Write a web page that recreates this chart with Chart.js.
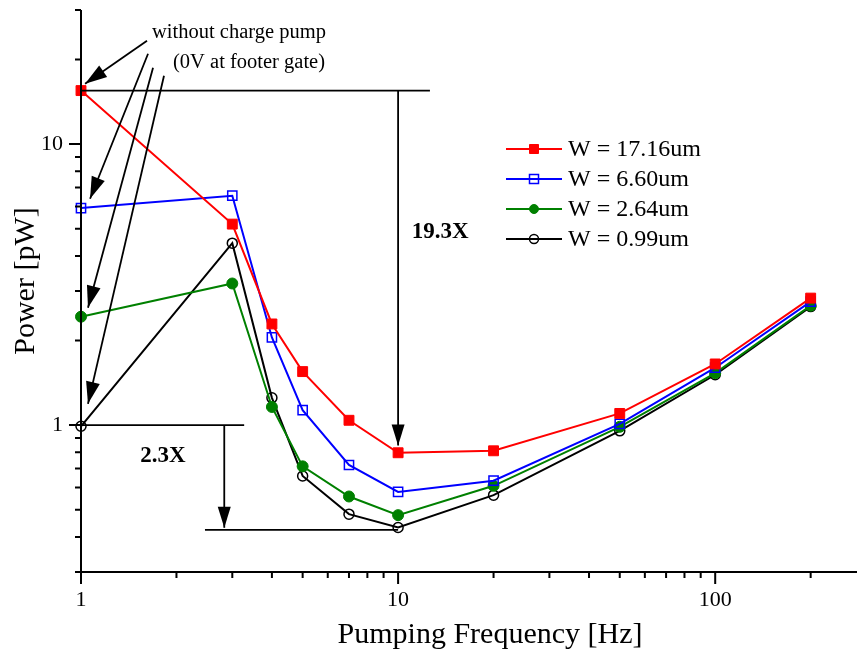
<!DOCTYPE html>
<html><head><meta charset="utf-8">
<script src="https://cdn.jsdelivr.net/npm/chart.js@4"></script>
<style>html,body{margin:0;padding:0;background:#fff;}#wrap{width:859px;height:655px;}</style>
</head><body><div id="wrap"><canvas id="c" width="859" height="655"></canvas></div>
<script>
// ---- data ----
const frequencies = [1, 3, 4, 5, 7, 10, 20, 50, 100, 200];
const seriesNames = ['W = 17.16um', 'W = 6.60um', 'W = 2.64um', 'W = 0.99um'];
const power_17_16 = [15.5, 5.19, 2.29, 1.55, 1.04, 0.797, 0.81, 1.10, 1.65, 2.83];
const power_6_60  = [5.92, 6.55, 2.05, 1.13, 0.721, 0.578, 0.634, 1.01, 1.60, 2.75];
const power_2_64  = [2.43, 3.19, 1.16, 0.713, 0.557, 0.478, 0.608, 0.986, 1.53, 2.66];
const power_0_99  = [0.99, 4.44, 1.25, 0.659, 0.482, 0.432, 0.563, 0.954, 1.51, 2.64];
const xTickLabels = ['1', '10', '100'];
const yTickLabels = ['1', '10'];
const xRange = [1, 280];
const yRange = [0.3, 30];
const ratioTop = '19.3X';
const ratioBottom = '2.3X';
const noteLine1 = 'without charge pump';
const noteLine2 = '(0V at footer gate)';

const FONT = "'Liberation Serif','Times New Roman',serif";
const seriesValues = [power_17_16, power_6_60, power_2_64, power_0_99];
const styles = [
  {c:'#ff0000', ps:'rect', r:7, fill:'#ff0000', bw:1},
  {c:'#0000ff', ps:'rect', r:6.5, fill:'rgba(0,0,0,0)', bw:1.5},
  {c:'#008000', ps:'circle', r:5.5, fill:'#008000', bw:1},
  {c:'#000000', ps:'circle', r:5, fill:'rgba(0,0,0,0)', bw:1.5}
];
const datasets = seriesValues.map((vals, i) => ({
  label: seriesNames[i],
  data: frequencies.map((f, k) => ({x: f, y: vals[k]})),
  borderColor: styles[i].c,
  backgroundColor: styles[i].fill,
  pointBackgroundColor: styles[i].fill,
  pointBorderColor: styles[i].c,
  pointStyle: styles[i].ps,
  pointRadius: styles[i].r,
  pointBorderWidth: styles[i].bw,
  borderWidth: 2,
  tension: 0,
  clip: false
}));

function isNice(v) {
  const e = Math.floor(Math.log10(v) + 1e-9);
  const m = v / Math.pow(10, e);
  return Math.abs(m - Math.round(m)) < 1e-6 ? Math.round(m) : 0;
}

const overlay = {
  id: 'overlay',
  afterDraw(chart) {
    const ctx = chart.ctx;
    const xs = chart.scales.x, ys = chart.scales.y;
    const ca = chart.chartArea;
    const X = v => xs.getPixelForValue(v), Y = v => ys.getPixelForValue(v);
    ctx.save();
    ctx.strokeStyle = '#000'; ctx.fillStyle = '#000';
    ctx.lineWidth = 2;
    ctx.beginPath();
    ctx.moveTo(ca.left, ca.top); ctx.lineTo(ca.left, ca.bottom);
    ctx.moveTo(ca.left - 1, ca.bottom); ctx.lineTo(ca.right, ca.bottom);
    ctx.stroke();
    ctx.beginPath();
    xs.ticks.forEach(t => {
      const m = isNice(t.value); if (!m) return;
      const px = X(t.value); const len = m === 1 ? 12 : 6;
      ctx.moveTo(px, ca.bottom); ctx.lineTo(px, ca.bottom + len);
    });
    ys.ticks.forEach(t => {
      const m = isNice(t.value); if (!m) return;
      const py = Y(t.value); const len = m === 1 ? 12 : 6;
      ctx.moveTo(ca.left, py); ctx.lineTo(ca.left - len, py);
    });
    ctx.stroke();
    ctx.font = '30px ' + FONT;
    ctx.textAlign = 'center'; ctx.textBaseline = 'middle';
    ctx.fillText('Pumping Frequency [Hz]', 490, 635);
    ctx.save();
    ctx.translate(26, 281); ctx.rotate(-Math.PI / 2);
    ctx.fillText('Power [pW]', 0, 0);
    ctx.restore();

    function arrow(x1, y1, x2, y2, L, W) {
      ctx.beginPath(); ctx.moveTo(x1, y1); ctx.lineTo(x2, y2); ctx.stroke();
      const a = Math.atan2(y2 - y1, x2 - x1);
      ctx.beginPath();
      ctx.moveTo(x2, y2);
      ctx.lineTo(x2 - L * Math.cos(a) + W * Math.sin(a), y2 - L * Math.sin(a) - W * Math.cos(a));
      ctx.lineTo(x2 - L * Math.cos(a) - W * Math.sin(a), y2 - L * Math.sin(a) + W * Math.cos(a));
      ctx.closePath(); ctx.fill();
    }
    function line(x1, y1, x2, y2) {
      ctx.beginPath(); ctx.moveTo(x1, y1); ctx.lineTo(x2, y2); ctx.stroke();
    }
    ctx.lineWidth = 1.8;
    line(X(1), Y(15.5), X(12.6), Y(15.5));
    arrow(X(10), Y(15.5), X(10), Y(0.845), 21, 6.5);
    line(X(1), Y(1), X(3.27), Y(1));
    arrow(X(2.83), Y(1), X(2.83), Y(0.431), 21, 6.5);
    line(X(2.46), Y(0.424), X(10), Y(0.424));
    arrow(X(1.615), Y(23.3), X(1.03), Y(16.4), 22, 7);
    arrow(X(1.627), Y(20.96), X(1.068), Y(6.39), 22, 7);
    arrow(X(1.687), Y(18.7), X(1.052), Y(2.615), 22, 7);
    arrow(X(1.827), Y(17.5), X(1.052), Y(1.19), 22, 7);
    ctx.font = 'bold 23px ' + FONT;
    ctx.textAlign = 'center'; ctx.textBaseline = 'middle';
    ctx.fillText(ratioTop, X(13.57), Y(4.87));
    ctx.fillText(ratioBottom, X(1.814), Y(0.777));
    ctx.font = '20.5px ' + FONT;
    ctx.textAlign = 'left';
    ctx.fillText(noteLine1, X(1.675), Y(24.9));
    ctx.fillText(noteLine2, X(1.951), Y(19.46));

    chart.data.datasets.forEach((ds, i) => {
      const y = 149 + 30 * i;
      ctx.strokeStyle = ds.borderColor; ctx.lineWidth = 2;
      line(506, y, 562, y);
      ctx.lineWidth = ds.pointBorderWidth;
      ctx.fillStyle = ds.pointBackgroundColor;
      ctx.beginPath();
      if (ds.pointStyle === 'rect') { const s = 4.5; ctx.rect(534 - s, y - s, 2 * s, 2 * s); }
      else { ctx.arc(534, y, 4.5, 0, Math.PI * 2); }
      ctx.fill(); ctx.stroke();
      ctx.fillStyle = '#000';
      ctx.font = '24px ' + FONT;
      ctx.textAlign = 'left'; ctx.textBaseline = 'middle';
      ctx.fillText(ds.label, 568, y + 1);
    });
    ctx.restore();
  }
};

new Chart(document.getElementById('c'), {
  type: 'line',
  data: { datasets },
  options: {
    responsive: false, animation: false, devicePixelRatio: 1,
    layout: { autoPadding: false, padding: { top: 10, right: 2, left: 0, bottom: 0 } },
    plugins: { legend: { display: false }, tooltip: { enabled: false } },
    scales: {
      x: {
        type: 'logarithmic', min: xRange[0], max: xRange[1], position: 'bottom',
        grid: { display: false, drawTicks: false }, border: { display: false },
        ticks: { autoSkip: false, maxRotation: 0, padding: 15, color: '#000',
          font: { family: FONT, size: 22 },
          callback: v => xTickLabels.includes(String(v)) ? String(v) : '' },
        afterFit: s => { s.height = 83; s.paddingLeft = 0; s.paddingRight = 0; }
      },
      y: {
        type: 'logarithmic', min: yRange[0], max: yRange[1],
        grid: { display: false, drawTicks: false }, border: { display: false },
        ticks: { autoSkip: false, padding: 18, color: '#000',
          font: { family: FONT, size: 22 },
          callback: v => yTickLabels.includes(String(v)) ? String(v) : '' },
        afterFit: s => { s.width = 81; s.paddingTop = 0; s.paddingBottom = 0; }
      }
    }
  },
  plugins: [overlay]
});
</script></body></html>
